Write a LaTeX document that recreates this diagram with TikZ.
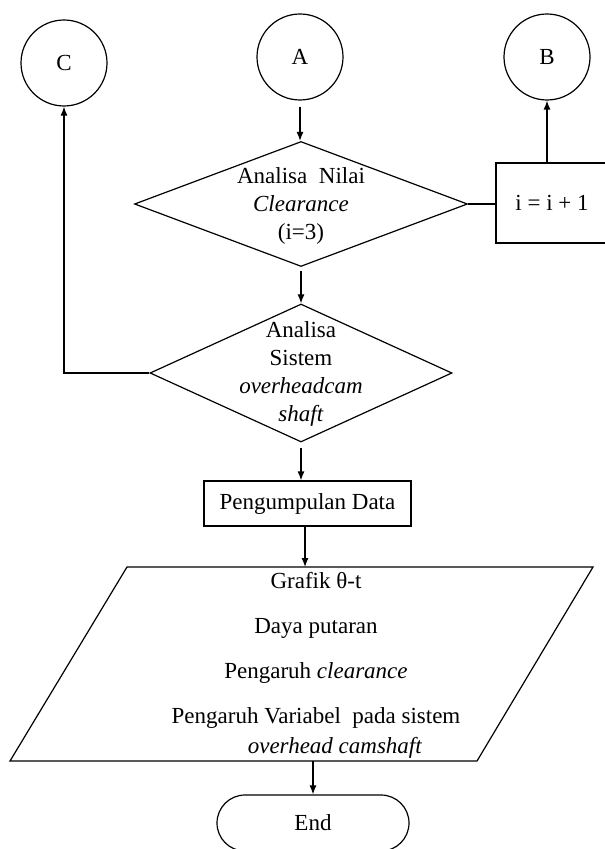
\documentclass[tikz,border=0pt]{standalone}
\usepackage{fontspec}
\setmainfont{Liberation Serif}
\usetikzlibrary{arrows.meta, positioning, shapes.geometric, shapes.misc}

\begin{document}
\begin{tikzpicture}[
  x=0.5pt, y=-0.5pt,
  font=\fontsize{11.5}{14}\selectfont,
  con/.style={draw, circle, minimum size=43pt, inner sep=0pt},
  dec/.style={draw, diamond, inner sep=0pt},
  box/.style={draw, rectangle, inner sep=0pt},
  term/.style={draw, rounded rectangle, inner sep=0pt},
  txt/.style={align=center, inner sep=0pt},
  arr/.style={-{Latex[length=4.5pt,width=3.5pt]}},
  line width=0.6pt
]
\useasboundingbox (0,0) rectangle (604,849);

% connectors
\node[con] (conc) at (64,63) {C};
\node[con] (cona) at (300,57) {A};
\node[con] (conb) at (547,57) {B};

% decisions
\node[dec, minimum width=166.5pt, minimum height=62.5pt] (d1) at (301,204) {};
\node[txt] (t1) at (301,206) {Analisa\ \ Nilai\\\textit{Clearance}\\(i=3)};
\node[box, minimum width=56pt, minimum height=40pt] (inc) at (552,203) {i = i + 1};

\node[dec, minimum width=151pt, minimum height=69pt] (d2) at (301,373) {};
\node[txt] (t2) at (301,374) {Analisa\\Sistem\\\textit{overheadcam}\\\textit{shaft}};

\node[box, minimum width=103.5pt, minimum height=22.5pt] (pd) at (307.5,503.5) {Pengumpulan Data};

% output (parallelogram)
\coordinate (ptl) at (127,567);
\coordinate (ptr) at (593,567);
\coordinate (pbr) at (477,761);
\coordinate (pbl) at (10,761);
\draw (ptl) -- (ptr) -- (pbr) -- (pbl) -- cycle;
\node[txt, font=\fontsize{11.5}{15}\selectfont] (t3) at (316,665)
  {Grafik θ-t\\[7.5pt]
   Daya putaran\\[7.5pt]
   Pengaruh \textit{clearance}\\[7.5pt]
   Pengaruh Variabel\ \ pada sistem\\
   \hspace*{19pt}\textit{overhead camshaft}};

\node[term, minimum width=96pt, minimum height=28pt] (fin) at (313,823) {End};

\draw[arr, shorten <=3pt] (cona.south) -- (cona.south |- d1.north);
\draw[arr, shorten <=2pt] (d1.south) -- (d2.north);
\draw[arr, shorten <=2.5pt] (d2.south) -- (d2.south |- pd.north);
\draw[arr] ([xshift=-1.25pt]pd.south) -- ([xshift=-1.25pt]pd.south |- ptl);
\draw[arr] (pbl -| fin.north) -- (fin.north);
\draw (d1.east) -- (d1.east -| inc.west);
\draw[arr] (conb.south |- inc.north) -- (conb.south);
\draw[arr] (d2.west) -| (conc.south);
\end{tikzpicture}
\end{document}
